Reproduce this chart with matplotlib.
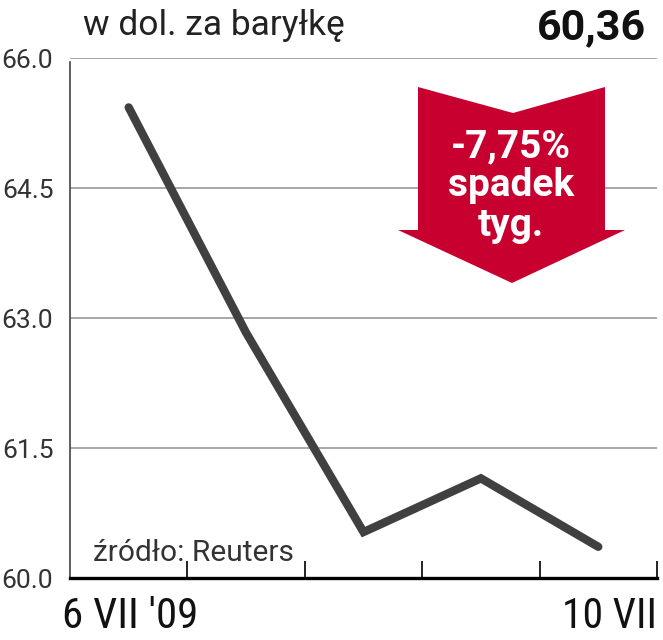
import matplotlib
matplotlib.use("Agg")
import matplotlib.pyplot as plt
from matplotlib.patches import Polygon

# dane: cena ropy w dol. za baryłkę, 6-10 VII 2009
days = [0.5, 1.5, 2.5, 3.5, 4.5]
prices = [65.43, 62.83, 60.53, 61.15, 60.36]
y_ticks = [60.0, 61.5, 63.0, 64.5, 66.0]
date_labels = ["6 VII '09", "10 VII"]
title = "w dol. za baryłkę"
last_value = "60,36"
change_text = "-7,75%\nspadek\ntyg."
source = "źródło: Reuters"

cond = ['Roboto Condensed', 'DejaVu Sans']
wide = ['Roboto', 'DejaVu Sans']
plt.rcParams['font.family'] = wide

fig = plt.figure(figsize=(6.63, 6.4), dpi=100)
ax = fig.add_axes([70 / 663, 62 / 640, 587 / 663, 520 / 640])

ax.plot(days, prices, color='#404040', linewidth=6, solid_capstyle='round',
        solid_joinstyle='miter', zorder=4)

ax.set_xlim(0, 5)
ax.set_ylim(60, 66)
ax.set_yticks(y_ticks)
ax.set_yticklabels([f"{v:.1f}" for v in y_ticks], fontsize=19, color='#333333')
ax.set_xticks([1, 2, 3, 4, 5])
ax.set_xticklabels([])
ax.tick_params(axis='x', direction='in', length=12, width=1.2, color='black')
ax.tick_params(axis='y', length=0, pad=12)
ax.grid(axis='y', color='#a0a0a0', linewidth=1.3)
ax.set_axisbelow(True)

for s in ['top', 'right']:
    ax.spines[s].set_visible(False)
ax.spines['bottom'].set_linewidth(2.4)
ax.spines['bottom'].set_color('black')
ax.spines['left'].set_linewidth(1.2)
ax.spines['left'].set_color('#444444')
ax.spines['left'].set_bounds(60, 65.95)

# strzałka spadku (piksele, y od góry)
pts = [(418, 87), (513, 113), (605, 87), (605, 230), (625, 230),
       (512, 283), (398, 230), (418, 230)]
arrow = Polygon([(x / 663, 1 - y / 640) for x, y in pts], closed=True,
                facecolor='#c8002f', edgecolor='none',
                transform=fig.transFigure, zorder=3)
fig.patches.append(arrow)

fig.text(511 / 663, 1 - 186 / 640, change_text, color='white', fontsize=28,
         fontweight='bold', ha='center', va='center', linespacing=1.08, zorder=5)

fig.text(83 / 663, 1 - 26 / 640, title, fontsize=25.5, color='#222222',
         ha='left', va='center')
fig.text(646 / 663, 1 - 28 / 640, last_value, fontsize=31, fontweight='bold',
         color='#111111', ha='right', va='center')

fig.text(93 / 663, 1 - 553 / 640, source, fontsize=21.5, color='#333333',
         ha='left', va='center')

fig.text(62 / 663, 1 - 616 / 640, date_labels[0], fontsize=31, color='#111111',
         ha='left', va='center', family=cond)
fig.text(657 / 663, 1 - 616 / 640, date_labels[1], fontsize=30, color='#111111',
         ha='right', va='center', family=cond)

fig.savefig('out.png', dpi=100)
